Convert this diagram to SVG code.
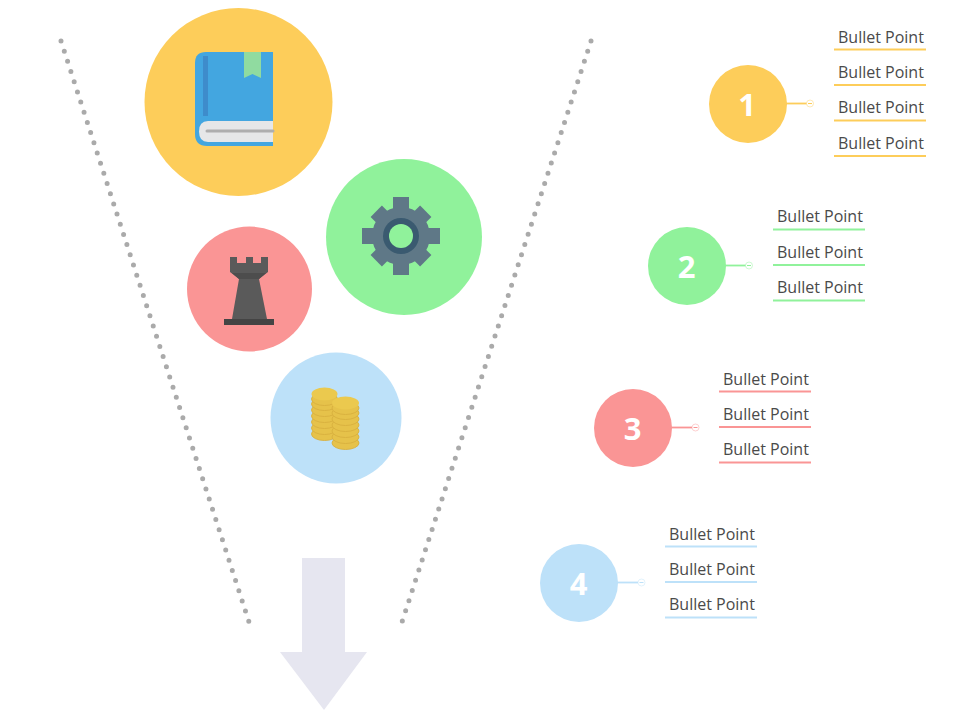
<svg xmlns="http://www.w3.org/2000/svg" width="959" height="727" viewBox="0 0 959 727">
<style>
.t{font-family:"Open Sans","Noto Sans",sans-serif;font-size:16px;fill:#4a4a4a}
.n{font-family:"Open Sans","Noto Sans",sans-serif;font-size:31px;font-weight:700;fill:#fff;text-anchor:middle}
.dot{fill:none;stroke:#aaa;stroke-width:5;stroke-linecap:round;stroke-dasharray:0 10.7}
.y{stroke:#fdcd5a}.g{stroke:#90f29b}.r{stroke:#fa9595}.b{stroke:#bde1f9}
.u{stroke-width:2;fill:none}.c{stroke-width:1.8;fill:none}.k{stroke-width:.8;fill:#fff;stroke-opacity:.55}.m{stroke-width:1;fill:none}
.coin{fill:#e6c24a;stroke:#d8b03e;stroke-width:.9}
.top{fill:#ebc94e;stroke:none}
</style>
<rect width="959" height="727" fill="#fff"/>
<g id="funnel">
<path class="dot" d="M61 41L249 622"/>
<path class="dot" d="M591 41L402 622"/>
</g>
<g id="arrow"><path d="M302 558H345V652H367L324 710L280 652H302Z" fill="#e6e6f0"/></g>
<g id="circle-book">
<circle cx="238.500" cy="102" r="94" fill="#fdcd5a"/>
<path d="M273 52H206Q195 52 195 63V134Q195 146 207 146H273Z" fill="#43a6e0"/>
<rect x="203" y="56" width="5" height="60" fill="#3e8ccb"/>
<path d="M273 121H208Q199 121 199 131.500Q199 142 208 142H273Z" fill="#e6e7e8"/>
<path d="M207 131H273" stroke="#aeaeae" stroke-width="3" stroke-linecap="round"/>
<path d="M244 52H261V78L252.500 74L244 78Z" fill="#90dba0"/>
</g>
<g id="circle-gear">
<circle cx="404" cy="237" r="78" fill="#90f29b"/>
<g fill="#5f7887">
<circle cx="401" cy="236" r="29"/>
<rect x="393" y="197" width="16" height="78"/>
<rect x="393" y="201" width="16" height="70" transform="rotate(45 401 236)"/>
<rect x="393" y="197" width="16" height="78" transform="rotate(90 401 236)"/>
<rect x="393" y="201" width="16" height="70" transform="rotate(135 401 236)"/>
</g>
<circle cx="401" cy="236" r="18" fill="#3a5a70"/>
<circle cx="401" cy="236" r="12" fill="#90f29b"/>
</g>
<g id="circle-rook">
<circle cx="249.500" cy="289" r="62.500" fill="#fa9595"/>
<path d="M230 257H237V263H246V257H253V263H261V257H268V272L259 279L267 319H232L239 279L230 272Z" fill="#5a5a5a"/>
<path d="M232 273H266L259 279H239Z" fill="#4d4d4d"/>
<rect x="224" y="319" width="50" height="6" fill="#444"/>
</g>
<g id="circle-coins">
<circle cx="336" cy="418" r="65.500" fill="#bde1f9"/>
<g class="coin">
<ellipse cx="324.500" cy="434" rx="13" ry="6.500"/>
<ellipse cx="324.500" cy="428" rx="13" ry="6.500"/>
<ellipse cx="324.500" cy="422" rx="13" ry="6.500"/>
<ellipse cx="324.500" cy="416" rx="13" ry="6.500"/>
<ellipse cx="324.500" cy="410" rx="13" ry="6.500"/>
<ellipse cx="324.500" cy="404" rx="13" ry="6.500"/>
<ellipse cx="324.500" cy="399" rx="13" ry="6.500"/>
<ellipse class="top" cx="324.500" cy="394" rx="13" ry="6.500"/>
<ellipse cx="345.500" cy="443" rx="13.500" ry="6.500"/>
<ellipse cx="345.500" cy="437" rx="13.500" ry="6.500"/>
<ellipse cx="345.500" cy="431" rx="13.500" ry="6.500"/>
<ellipse cx="345.500" cy="425" rx="13.500" ry="6.500"/>
<ellipse cx="345.500" cy="419" rx="13.500" ry="6.500"/>
<ellipse cx="345.500" cy="413" rx="13.500" ry="6.500"/>
<ellipse cx="345.500" cy="408" rx="13.500" ry="6.500"/>
<ellipse class="top" cx="345.500" cy="403" rx="13.500" ry="6.500"/>
</g>
</g>
<g id="connectors">
<path class="c y" d="M785 103.500H807"/><circle class="k y" cx="810" cy="103.500" r="3.500"/><path class="m y" d="M808 103.500H812"/>
<path class="c g" d="M724 265.500H746"/><circle class="k g" cx="749" cy="265.500" r="3.500"/><path class="m g" d="M747 265.500H751"/>
<path class="c r" d="M670 427.500H692"/><circle class="k r" cx="695.500" cy="427.500" r="3.500"/><path class="m r" d="M693.500 427.500H697.500"/>
<path class="c b" d="M616 582.500H638"/><circle class="k b" cx="641.500" cy="582.500" r="3.500"/><path class="m b" d="M639.500 582.500H643.500"/>
</g>
<g id="node-1">
<circle cx="748" cy="104" r="39" fill="#fdcd5a"/><text class="n" x="747" y="116">1</text>
<path class="u y" d="M834 49.500H926M834 85H926M834 120.500H926M834 156H926"/>
<text class="t" x="838" y="43">Bullet Point</text><text class="t" x="838" y="78">Bullet Point</text><text class="t" x="838" y="113">Bullet Point</text><text class="t" x="838" y="149">Bullet Point</text>
</g>
<g id="node-2">
<circle cx="687" cy="266" r="39" fill="#90f29b"/><text class="n" x="686.500" y="278">2</text>
<path class="u g" d="M773 229.500H865M773 265H865M773 300.500H865"/>
<text class="t" x="777" y="222">Bullet Point</text><text class="t" x="777" y="258">Bullet Point</text><text class="t" x="777" y="293">Bullet Point</text>
</g>
<g id="node-3">
<circle cx="633" cy="428" r="39" fill="#fa9595"/><text class="n" x="632.500" y="440">3</text>
<path class="u r" d="M719 391.500H811M719 427H811M719 462.500H811"/>
<text class="t" x="723" y="384.500">Bullet Point</text><text class="t" x="723" y="420">Bullet Point</text><text class="t" x="723" y="455">Bullet Point</text>
</g>
<g id="node-4">
<circle cx="579" cy="583" r="39" fill="#bde1f9"/><text class="n" x="578.500" y="595">4</text>
<path class="u b" d="M665 546.500H757M665 582H757M665 617.500H757"/>
<text class="t" x="669" y="539.500">Bullet Point</text><text class="t" x="669" y="575">Bullet Point</text><text class="t" x="669" y="610">Bullet Point</text>
</g>
</svg>
